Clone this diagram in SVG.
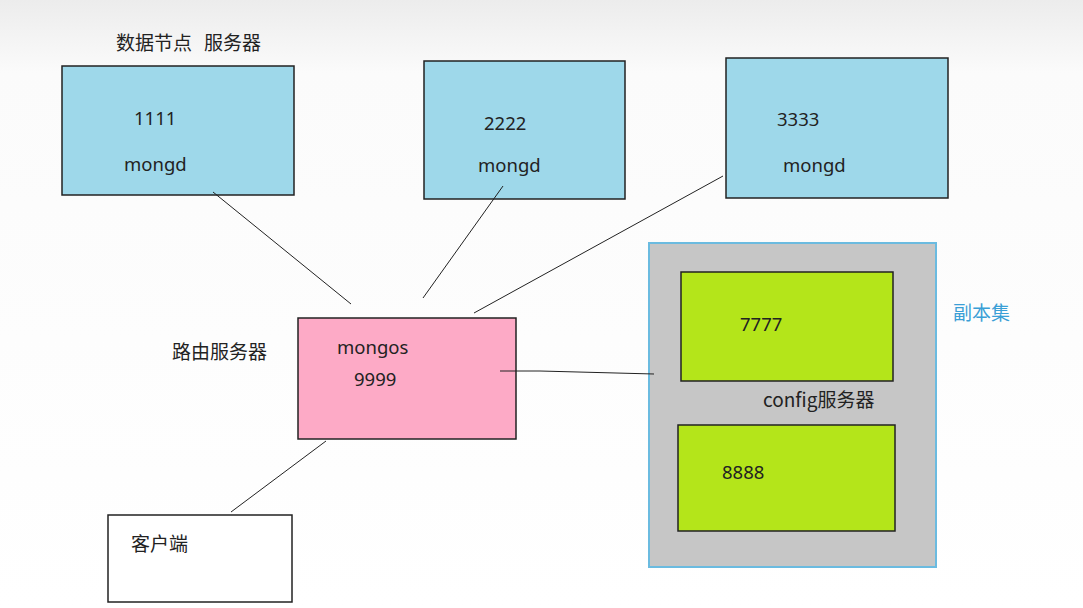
<svg xmlns="http://www.w3.org/2000/svg" width="1083" height="608" viewBox="0 0 1083 608">
<defs>
<linearGradient id="bg" x1="0" y1="0" x2="0" y2="1">
<stop offset="0" stop-color="#ececec"/>
<stop offset="0.12" stop-color="#fbfbfb"/>
<stop offset="1" stop-color="#ffffff"/>
</linearGradient>
<style>
.t{font-family:"Noto Sans","Noto Sans CJK SC",sans-serif;font-size:18.5px;fill:#222}
.c{font-family:"Noto Sans CJK SC","Noto Sans",sans-serif;font-size:19px;fill:#222}
.box{stroke:#222;stroke-width:1.5}
.data{fill:#9ed8ea}
.green{fill:#b4e51a}
.conn line,.conn polyline{stroke:#222;stroke-width:1;fill:none}
</style>
</defs>
<rect x="0" y="0" width="1083" height="608" fill="url(#bg)"/>
<text class="c" x="116" y="50">数据节点</text>
<text class="c" x="204" y="50">服务器</text>
<text class="c" x="172" y="359">路由服务器</text>
<text class="c" x="953" y="320" style="fill:#3a9fd6">副本集</text>
<g id="node1">
<rect class="box data" x="62" y="66" width="232" height="129"/>
<text class="t" x="134" y="125">1111</text>
<text class="t" x="124" y="171">mongd</text>
</g>
<g id="node2">
<rect class="box data" x="424" y="61" width="201" height="138"/>
<text class="t" x="484" y="130">2222</text>
<text class="t" x="478" y="172">mongd</text>
</g>
<g id="node3">
<rect class="box data" x="726" y="58" width="222" height="140"/>
<text class="t" x="777" y="126">3333</text>
<text class="t" x="783" y="172">mongd</text>
</g>
<g id="mongos">
<rect class="box" x="298" y="318" width="218" height="121" fill="#fdaac6"/>
<text class="t" x="337" y="354">mongos</text>
<text class="t" x="354" y="386">9999</text>
</g>
<g id="client">
<rect class="box" x="108" y="515" width="184" height="87" fill="#ffffff"/>
<text class="c" x="131" y="551">客户端</text>
</g>
<g id="replset">
<rect x="649" y="243" width="287" height="324" fill="#c6c6c6" stroke="#6bbbe0" stroke-width="2"/>
<text class="c" x="763" y="407">config服务器</text>
</g>
<g id="config1">
<rect class="box green" x="681" y="272" width="212" height="109"/>
<text class="t" x="740" y="331">7777</text>
</g>
<g id="config2">
<rect class="box green" x="678" y="425" width="217" height="106"/>
<text class="t" x="722" y="479">8888</text>
</g>
<g class="conn">
<line x1="213" y1="192" x2="351" y2="304"/>
<line x1="503" y1="186" x2="423" y2="298"/>
<line x1="723" y1="176" x2="474" y2="313"/>
<polyline points="500,371 540,371 654,374"/>
<line x1="326" y1="441" x2="231" y2="512"/>
</g>
</svg>
